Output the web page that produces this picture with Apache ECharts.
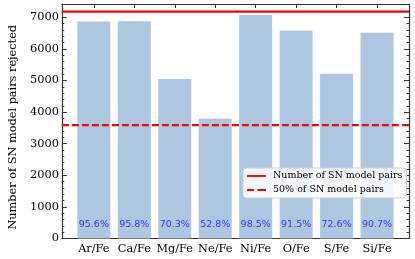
<!DOCTYPE html>
<html>
<head>
<meta charset="utf-8">
<script src="https://cdn.jsdelivr.net/npm/echarts@6/dist/echarts.min.js"></script>
<style>html,body{margin:0;padding:0;background:#fff}#c{width:415px;height:259px}</style>
</head>
<body>
<div id="c"></div>
<script>
const categories = ['Ar/Fe','Ca/Fe','Mg/Fe','Ne/Fe','Ni/Fe','O/Fe','S/Fe','Si/Fe'];
const rejected = [6864, 6878, 5048, 3791, 7072, 6570, 5213, 6512];
const percentLabels = ['95.6%','95.8%','70.3%','52.8%','98.5%','91.5%','72.6%','90.7%'];
const totalPairs = 7180;
const halfPairs = 3590;
const yTicks = [0,1000,2000,3000,4000,5000,6000,7000];

const xMin = -0.79, xMax = 7.79;
const pos = categories.map((c,i)=>i);
const serif = 'DejaVu Serif';
const axisColor = '#333';

const chart = echarts.init(document.getElementById('c'), null, {renderer:'canvas'});
chart.setOption({
  animation:false,
  backgroundColor:'#fff',
  grid:{left:55, right:6, top:4, bottom:20.5, containLabel:false},
  legend:{
    orient:'vertical', left:243, top:168,
    data:[
      {name:'Number of SN model pairs', icon:'path://M0,0h20v2h-20z'},
      {name:'50% of SN model pairs', icon:'path://M0,0h7.5v2h-7.5z M11,0h9v2h-9z'}
    ],
    itemWidth:19, itemHeight:2.2, itemGap:4, itemStyle:{color:'#ff0000'},
    padding:[3,4,3,4],
    backgroundColor:'rgba(255,255,255,0.85)', borderColor:'#ccc', borderWidth:1, borderRadius:3,
    textStyle:{fontFamily:serif, fontSize:9.5, color:'#000', padding:[0,0,0,2], lineHeight:10}
  },
  xAxis:[
    {type:'value', position:'bottom', min:xMin, max:xMax,
     axisLine:{show:true, onZero:false, lineStyle:{color:axisColor, width:1.2}},
     axisTick:{show:true, inside:true, length:4, customValues:pos, lineStyle:{color:axisColor}},
     axisLabel:{show:true, customValues:pos, formatter:(v)=>categories[Math.round(v)], fontFamily:serif, fontSize:11.3, color:'#000', margin:5},
     splitLine:{show:false}},
    {type:'value', position:'top', min:xMin, max:xMax,
     axisLine:{show:true, onZero:false, lineStyle:{color:axisColor, width:1.2}},
     axisTick:{show:true, inside:true, length:4, customValues:pos, lineStyle:{color:axisColor}},
     axisLabel:{show:false}, splitLine:{show:false}}
  ],
  yAxis:[
    {type:'value', position:'left', min:0, max:7420, interval:1000,
     axisLine:{show:true, onZero:false, lineStyle:{color:axisColor, width:1.2}},
     axisTick:{show:true, inside:true, length:5, lineStyle:{color:axisColor}},
     minorTick:{show:true, splitNumber:5, length:2.5, lineStyle:{color:axisColor}},
     axisLabel:{fontFamily:serif, fontSize:11.4, color:'#000', margin:3, customValues:yTicks, formatter:(v)=>String(v)},
     splitLine:{show:false},
     name:'Number of SN model pairs rejected', nameLocation:'middle', nameGap:41,
     nameTextStyle:{fontFamily:serif, fontSize:11.3, color:'#000', padding:[0,12,0,0]}},
    {type:'value', position:'right', min:0, max:7420, interval:1000,
     axisLine:{show:true, onZero:false, lineStyle:{color:axisColor, width:1.2}},
     axisTick:{show:true, inside:true, length:5, lineStyle:{color:axisColor}},
     minorTick:{show:true, splitNumber:5, length:2.5, lineStyle:{color:axisColor}},
     axisLabel:{show:false}, splitLine:{show:false}}
  ],
  series:[
    {type:'bar', name:'rejected', xAxisIndex:0, yAxisIndex:0, barWidth:33,
     data:rejected.map((v,i)=>[i,v]),
     itemStyle:{color:'#aec7e1'},
     label:{show:true, position:'insideBottom', distance:9,
       formatter:(p)=>percentLabels[p.dataIndex], color:'#3333ff', fontFamily:'DejaVu Sans', fontSize:9.5}},
    {type:'line', name:'Number of SN model pairs', xAxisIndex:0, yAxisIndex:0, symbol:'none',
     data:[[xMin,totalPairs],[xMax,totalPairs]],
     lineStyle:{color:'#ff0000', width:2.2}, itemStyle:{color:'#ff0000'}},
    {type:'line', name:'50% of SN model pairs', xAxisIndex:0, yAxisIndex:0, symbol:'none',
     data:[[xMin,halfPairs],[xMax,halfPairs]],
     lineStyle:{color:'#ff0000', width:2.2, type:[7,3]}, itemStyle:{color:'#ff0000'}}
  ]
});
</script>
</body>
</html>
